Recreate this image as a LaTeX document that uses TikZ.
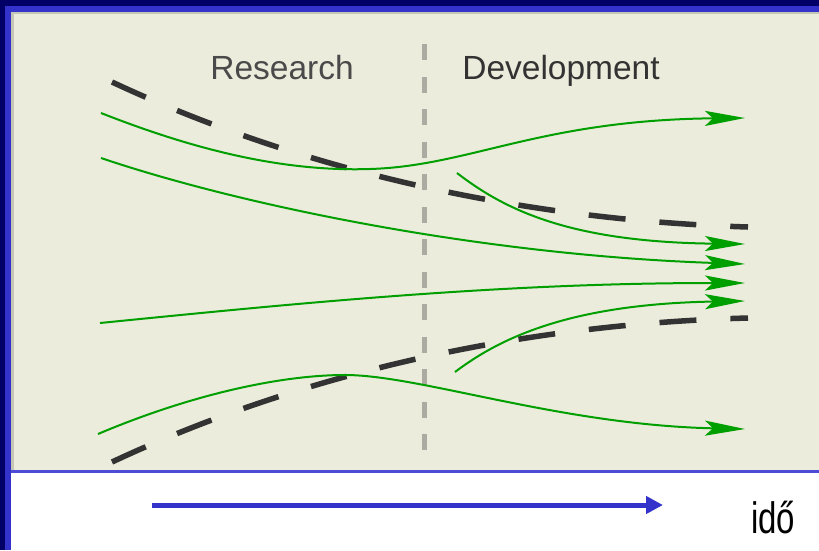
\documentclass[tikz,border=0pt]{standalone}
\usepackage{fontspec}
\setmainfont{Liberation Sans}
\newfontfamily\narrowfont[FakeStretch=0.75]{Liberation Sans}
\usetikzlibrary{arrows.meta}
\definecolor{navy}{HTML}{000066}
\definecolor{frameblue}{HTML}{3333CC}
\definecolor{lineblue}{HTML}{4C4CD6}
\definecolor{panel}{HTML}{ECECDC}
\definecolor{paneledge}{HTML}{C6C6B6}
\definecolor{flowgreen}{HTML}{009F00}
\definecolor{dashdark}{HTML}{333333}
\definecolor{dividergray}{HTML}{ABABA2}
\definecolor{labelgray}{HTML}{4A4A4A}
\begin{document}
\begin{tikzpicture}[x=1pt,y=-1pt,
  flow/.style={draw=flowgreen, line width=2pt, -{Stealth[length=40pt,width=15pt,inset=8pt]}},
  trend/.style={draw=dashdark, line width=5.5pt, dash pattern=on 37pt off 34pt},
  divider/.style={draw=dividergray, line width=5pt, dash pattern=on 16pt off 16.5pt},
  phase/.style={text=labelgray, font=\fontsize{33.5}{40}\selectfont, inner sep=0pt, anchor=base},
  timearrow/.style={draw=frameblue, line width=5pt, -{Triangle[length=17pt,width=17pt]}}
]
\useasboundingbox (0,0) rectangle (819,550);
% background and frame
\fill[white] (0,0) rectangle (819,550);
\fill[panel] (11,12) rectangle (819,470);
\fill[paneledge] (11,12) rectangle (14,470);
\fill[paneledge] (11,12) rectangle (819,14);
\fill[lineblue] (11,470) rectangle (819,473);
\fill[frameblue] (5,6) rectangle (819,12);
\fill[frameblue] (5,6) rectangle (11,550);
\fill[navy] (0,0) rectangle (819,6);
\fill[navy] (0,0) rectangle (5,550);

% labels
\node[phase] (research) at (282,79) {Research};
\node[phase, text=dashdark] (development) at (561,79) {Development};

% divider
\coordinate (divtop) at (424,44);
\coordinate (divbot) at (424,452);
\draw[divider] (divtop) -- (divbot);

% dashed trend lines
\coordinate (d1s) at (112,82);
\coordinate (d1e) at (748,227);
\coordinate (d2s) at (112,462);
\coordinate (d2e) at (748,318);
\draw[trend] (d1s) .. controls (300,170) and (520,220) .. (d1e);
\draw[trend] (d2s) .. controls (300,374) and (520,324) .. (d2e);

% green flows
\coordinate (g1s) at (101,113);
\coordinate (g1m) at (370,169);
\coordinate (g1e) at (745,118);
\draw[flow] (g1s) .. controls (190,148) and (280,172) .. (g1m)
  .. controls (470,166) and (540,120) .. (g1e);

\coordinate (g2s) at (101,158);
\coordinate (g2e) at (745,264);
\draw[flow] (g2s) .. controls (240,205) and (480,255) .. (g2e);

\coordinate (g3s) at (100,323);
\coordinate (g3e) at (745,283);
\draw[flow] (g3s) .. controls (300,303) and (500,283) .. (g3e);

\coordinate (g4s) at (98,434);
\coordinate (g4m) at (345,375);
\coordinate (g4e) at (745,429);
\draw[flow] (g4s) .. controls (190,395) and (280,375) .. (g4m)
  .. controls (420,375) and (560,425) .. (g4e);

\coordinate (b1s) at (457,173);
\coordinate (b1e) at (745,244);
\draw[flow] (b1s) .. controls (505,210) and (570,242) .. (b1e);

\coordinate (b2s) at (455,372);
\coordinate (b2e) at (745,301);
\draw[flow] (b2s) .. controls (500,338) and (570,304) .. (b2e);

% time axis
\coordinate (ts) at (152,505);
\coordinate (te) at (663,505);
\draw[timearrow] (ts) -- (te);
\node[font=\narrowfont\fontsize{44}{50}\selectfont, inner sep=0pt, anchor=base west] (ido) at (751,533) {idő};
\end{tikzpicture}
\end{document}
